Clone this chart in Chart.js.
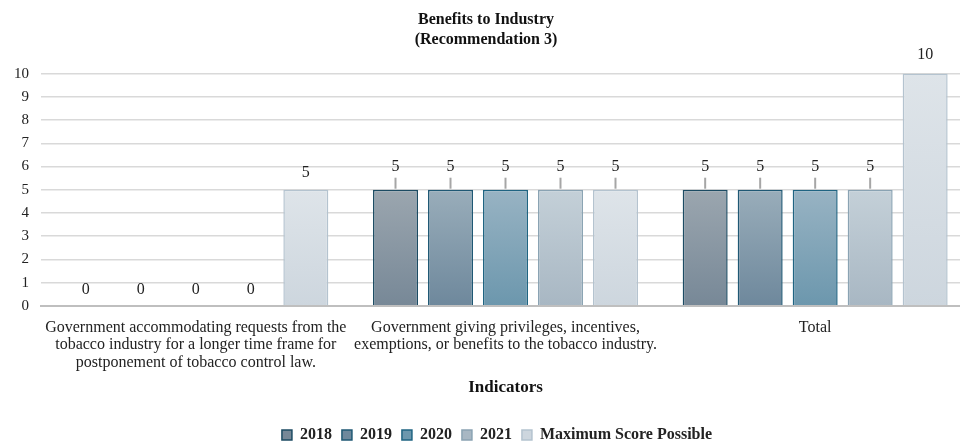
<!DOCTYPE html>
<html>
<head>
<meta charset="utf-8">
<script src="https://cdn.jsdelivr.net/npm/chart.js@4/dist/chart.umd.min.js"></script>
<style>
  html, body { margin: 0; padding: 0; background: #fff; overflow: hidden; }
  #wrap { width: 960px; height: 441px; overflow: hidden; }
  #inner { width: 970px; height: 453px; }
</style>
</head>
<body>
<div id="wrap"><div id="inner"><canvas id="myChart"></canvas></div></div>
<script>
'use strict';

// data
var categories = [
  ['Government accommodating requests from the', 'tobacco industry for a longer time frame for', 'postponement of tobacco control law.'],
  ['Government giving privileges, incentives,', 'exemptions, or benefits to the tobacco industry.'],
  'Total'
];
var seriesNames = ['2018', '2019', '2020', '2021', 'Maximum Score Possible'];
var values2018 = [0, 5, 5];
var values2019 = [0, 5, 5];
var values2020 = [0, 5, 5];
var values2021 = [0, 5, 5];
var valuesMax = [5, 5, 10];
var yTicks = [0, 1, 2, 3, 4, 5, 6, 7, 8, 9, 10];

// colours: [top, bottom, border]
var colours = [
  ['#9ba6af', '#778897', '#1c4b63'],
  ['#99adba', '#6e889c', '#1f5874'],
  ['#98b3c3', '#6c97ad', '#1f6482'],
  ['#c4d0d8', '#a8b7c3', '#8aa3b3'],
  ['#dee4e9', '#cdd6de', '#b4c3cf']
];

var FONT = "'Liberation Serif', 'Times New Roman', serif";

function gradFor(i) {
  return function(context) {
    var chart = context.chart;
    if (!chart.chartArea || !chart.scales.y || context.type !== 'data') return colours[i][0];
    var y = chart.scales.y;
    var top = y.getPixelForValue(context.raw || 0);
    var bottom = y.getPixelForValue(0);
    if (bottom - top < 1) return colours[i][0];
    var g = chart.ctx.createLinearGradient(0, top, 0, bottom);
    g.addColorStop(0, colours[i][0]);
    g.addColorStop(1, colours[i][1]);
    return g;
  };
}

var allValues = [values2018, values2019, values2020, values2021, valuesMax];
var datasets = [];
for (var i = 0; i < seriesNames.length; i++) {
  datasets.push({
    label: seriesNames[i],
    data: allValues[i],
    backgroundColor: gradFor(i),
    borderColor: colours[i][2],
    borderWidth: 1.5,
    barPercentage: 0.818,
    categoryPercentage: 0.888
  });
}

// value labels with small leader lines
var valueLabels = {
  id: 'valueLabels',
  afterDatasetsDraw: function(chart) {
    var ctx = chart.ctx;
    ctx.save();
    ctx.font = '16px ' + FONT;
    ctx.fillStyle = '#222';
    ctx.textAlign = 'center';
    ctx.textBaseline = 'alphabetic';
    chart.data.datasets.forEach(function(ds, di) {
      var meta = chart.getDatasetMeta(di);
      meta.data.forEach(function(bar, j) {
        var v = ds.data[j];
        var leader = v > 0 && v < 10 && !(j === 0 && di === 4);
        if (leader) {
          ctx.strokeStyle = '#a6a6a6';
          ctx.lineWidth = 2;
          ctx.beginPath();
          ctx.moveTo(bar.x, bar.y - 1);
          ctx.lineTo(bar.x, bar.y - 12);
          ctx.stroke();
          ctx.fillText(String(v), bar.x, bar.y - 19);
        } else if (v >= 10) {
          ctx.fillText(String(v), bar.x, bar.y - 15);
        } else {
          ctx.fillText(String(v), bar.x, bar.y - (v === 0 ? 12 : 13));
        }
      });
    });
    ctx.restore();
  }
};

// nudge the legend a bit to the right, like the original
var legendShift = {
  id: 'legendShift',
  afterLayout: function(chart) {
    if (chart.legend) {
      chart.legend.left += 11;
      chart.legend.right += 11;
    }
  }
};

var ctx = document.getElementById('myChart').getContext('2d');
var chart = new Chart(ctx, {
  type: 'bar',
  data: {
    labels: categories,
    datasets: datasets
  },
  plugins: [valueLabels, legendShift],
  options: {
    responsive: true,
    maintainAspectRatio: false,
    animation: false,
    layout: { padding: { left: 2, right: 0, top: 0, bottom: 0 } },
    plugins: {
      title: {
        display: true,
        text: ['Benefits to Industry', '(Recommendation 3)'],
        color: '#111',
        font: { family: FONT, size: 16, weight: 'bold', lineHeight: 1.3 },
        padding: { top: 9, bottom: 23 }
      },
      legend: {
        position: 'bottom',
        labels: {
          color: '#222',
          font: { family: FONT, size: 16, weight: 'bold' },
          boxWidth: 10,
          boxHeight: 10,
          padding: 10,
          generateLabels: function(chart) {
            return chart.data.datasets.map(function(ds, i) {
              return {
                text: ds.label,
                fillStyle: colours[i][1],
                strokeStyle: colours[i][2],
                lineWidth: 1.5,
                datasetIndex: i,
                hidden: false,
                fontColor: '#222'
              };
            });
          }
        }
      },
      tooltip: { enabled: false }
    },
    scales: {
      x: {
        grid: { display: false, drawTicks: false },
        border: { display: true, color: '#bfbfbf', width: 2 },
        ticks: {
          color: '#222',
          font: { family: FONT, size: 16, lineHeight: 1.1 },
          maxRotation: 0,
          autoSkip: false,
          padding: 13
        },
        title: {
          display: true,
          text: 'Indicators',
          color: '#111',
          font: { family: FONT, size: 17, weight: 'bold' },
          padding: { top: -7, bottom: 19 }
        }
      },
      y: {
        min: 0,
        max: 10,
        afterBuildTicks: function(axis) {
          axis.ticks = yTicks.map(function(v) { return { value: v }; });
        },
        grid: { color: '#d9d9d9', lineWidth: 1.5, drawTicks: false },
        border: { display: false },
        ticks: {
          color: '#222',
          font: { family: FONT, size: 15 },
          stepSize: 1,
          autoSkip: false,
          padding: 12
        }
      }
    }
  }
});
</script>
</body>
</html>
